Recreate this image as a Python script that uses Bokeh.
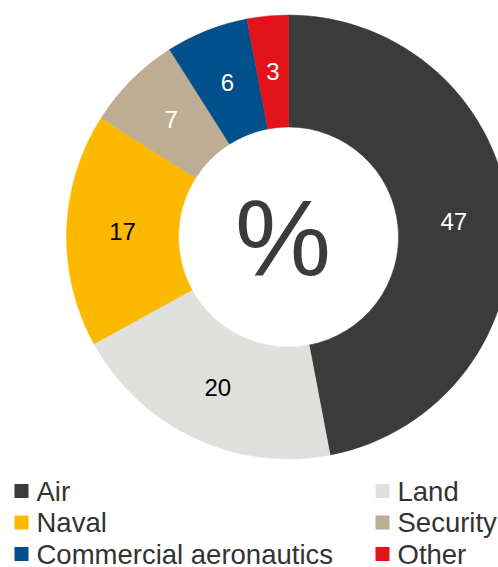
import numpy as np
from bokeh.plotting import figure
from bokeh.models import ColumnDataSource, Range1d, Label
from bokeh.core.properties import value
from bokeh.embed import file_html
from bokeh.resources import INLINE

# ---- data ----
categories = ["Air", "Land", "Naval", "Security", "Commercial aeronautics", "Other"]
shares = [47, 20, 17, 7, 6, 3]
colors = ["#3b3b3b", "#e0e0dc", "#fcb900", "#bead95", "#00508b", "#e3131b"]
label_colors = ["#ffffff", "#000000", "#000000", "#ffffff", "#ffffff", "#ffffff"]

# ---- layout (pixels, y measured upward from page bottom) ----
W, H = 498, 567
cx, cy = 288, H - 236.5
r_out, r_in = 222, 110
r_lab = (r_out + r_in) / 2

vals = np.array(shares, dtype=float)
frac = vals / vals.sum()
cum = np.concatenate([[0], np.cumsum(frac)])
start = np.pi / 2 - 2 * np.pi * cum[:-1]
end = np.pi / 2 - 2 * np.pi * cum[1:]
mid = (start + end) / 2

src = ColumnDataSource(dict(
    cat=categories, val=[str(v) for v in shares], color=colors, lc=label_colors,
    start=start, end=end,
    lx=cx + r_lab * np.cos(mid), ly=cy + r_lab * np.sin(mid),
))

p = figure(width=W, height=H, output_backend="svg", toolbar_location=None,
           x_range=Range1d(0, W), y_range=Range1d(0, H),
           min_border=0, margin=(0, 0, 0, 0))
p.axis.visible = False
p.grid.visible = False
p.outline_line_color = None
p.background_fill_color = "white"
p.border_fill_color = "white"

p.annular_wedge(x=cx, y=cy, inner_radius=r_in, outer_radius=r_out,
                start_angle="start", end_angle="end", direction="clock",
                fill_color="color", line_color="color", line_width=0.5, source=src)

p.text(x="lx", y="ly", text="val", text_color="lc", text_align="center",
       text_baseline="middle", text_font=value("Liberation Sans"),
       text_font_size="24px", source=src)

p.add_layout(Label(x=cx - 5.5, y=cy, text="%", text_align="center",
                   text_baseline="middle", text_font="Liberation Sans",
                   text_font_size="108px", text_color="#3b3b3b"))

# ---- legend (2 columns, row-major) ----
col_sq = [21, 382]
row_c = [H - 490.5, H - 522, H - 553.5]
idx = np.arange(len(categories))
leg = ColumnDataSource(dict(
    sx=[col_sq[i % 2] for i in idx],
    sy=[row_c[i // 2] for i in idx],
    tx=[col_sq[i % 2] + 15 for i in idx],
    ty=[row_c[i // 2] for i in idx],
    cat=categories, color=colors,
))
p.scatter(x="sx", y="sy", marker="square", size=14, fill_color="color",
          line_color=None, source=leg)
p.text(x="tx", y="ty", text="cat", text_color="#333333", text_align="left",
       text_baseline="middle", text_font=value("Liberation Sans"),
       text_font_size="27.5px", source=leg)

open("out.html", "w").write(file_html(p, INLINE))
